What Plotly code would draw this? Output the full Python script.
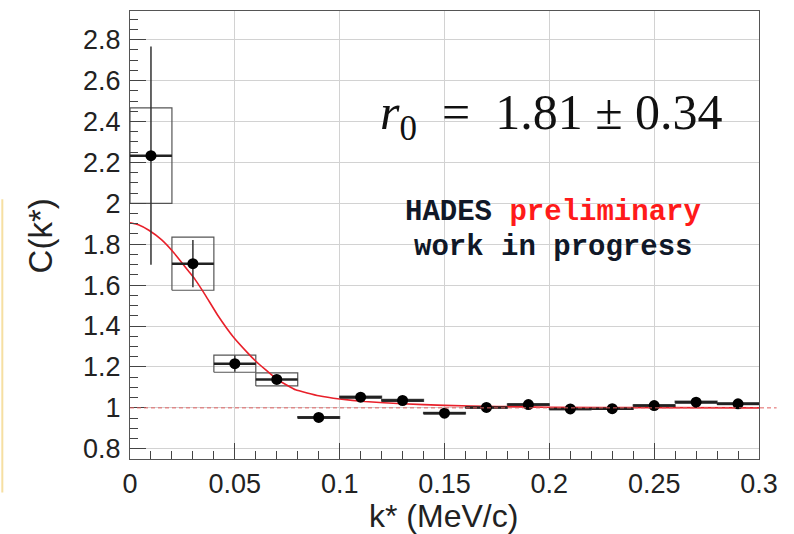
import plotly.graph_objects as go

# ---------------- data ----------------
bin_center = [0.01, 0.03, 0.05, 0.07, 0.09, 0.11, 0.13, 0.15, 0.17, 0.19, 0.21, 0.23, 0.25, 0.27, 0.29]
bin_half = [0.01] * 15
corr = [2.233, 1.705, 1.216, 1.139, 0.953, 1.052, 1.036, 0.974, 1.002, 1.016, 0.995, 0.996, 1.011, 1.028, 1.02]
stat_err = [0.533, 0.115, 0.04, 0.02, 0.01, 0.01, 0.008, 0.01, 0.008, 0.008, 0.008, 0.008, 0.008, 0.008, 0.008]
sys_err = [0.233, 0.13, 0.042, 0.032, 0.004, 0.005, 0.005, 0.004, 0.004, 0.004, 0.004, 0.004, 0.004, 0.005, 0.004]

fit_k = [0.0, 0.004, 0.009, 0.015, 0.021, 0.028, 0.031, 0.036, 0.042, 0.049, 0.056, 0.060,
         0.070, 0.079, 0.090, 0.100, 0.112, 0.130, 0.150, 0.175, 0.200, 0.250, 0.300]
fit_c = [1.905, 1.895, 1.868, 1.822, 1.757, 1.667, 1.628, 1.55, 1.45, 1.35, 1.27, 1.228,
         1.14, 1.088, 1.059, 1.043, 1.031, 1.02, 1.012, 1.007, 1.003, 1.001, 1.0]

baseline = 1.0

x_tickvals = [0, 0.05, 0.1, 0.15, 0.2, 0.25, 0.3]
x_ticktext = ["0", "0.05", "0.1", "0.15", "0.2", "0.25", "0.3"]
y_tickvals = [0.8, 1.0, 1.2, 1.4, 1.6, 1.8, 2.0, 2.2, 2.4, 2.6, 2.8]
y_ticktext = ["0.8", "1", "1.2", "1.4", "1.6", "1.8", "2", "2.2", "2.4", "2.6", "2.8"]

x_title = "k* (MeV/c)"
y_title = "C(k*)"
r0_text = "<i>r</i><sub>0</sub>\u2002=\u20021.81 ± 0.34"
label1 = "<b>HADES <span style='color:#ff1a1a'>preliminary</span></b>"
label2 = "<b>work in progress</b>"

# ---------------- figure ----------------
fig = go.Figure()

# systematic boxes
bx, by = [], []
for c, h, v, s in zip(bin_center, bin_half, corr, sys_err):
    bx += [c - h, c + h, c + h, c - h, c - h, None]
    by += [v - s, v - s, v + s, v + s, v - s, None]
fig.add_trace(go.Scatter(x=bx, y=by, mode="lines",
                         line=dict(color="#555555", width=1.2),
                         hoverinfo="skip", showlegend=False))

# fit curve
fig.add_trace(go.Scatter(x=fit_k, y=fit_c, mode="lines",
                         line=dict(color="#e8202a", width=1.6, shape="spline", smoothing=0.3),
                         showlegend=False))

# data points
fig.add_trace(go.Scatter(
    x=bin_center, y=corr, mode="markers",
    marker=dict(color="black", size=11),
    error_x=dict(type="data", array=bin_half, width=0, thickness=2.5, color="#222222"),
    error_y=dict(type="data", array=stat_err, width=0, thickness=1.5, color="#333333"),
    showlegend=False))

axis_font = dict(family="Liberation Sans, Arial, sans-serif", size=27, color="#222222")

fig.update_xaxes(range=[0, 0.3], tickvals=x_tickvals, ticktext=x_ticktext,
                 showgrid=True, gridcolor="#d2d2d2", gridwidth=1, zeroline=False,
                 showline=True, mirror=True, linecolor="#555555", linewidth=1.2,
                 ticks="inside", ticklen=16, tickcolor="#444444", tickwidth=1,
                 minor=dict(dtick=0.01, tick0=0, ticks="inside", ticklen=8,
                            tickcolor="#444444", showgrid=False),
                 tickfont=axis_font)
fig.update_yaxes(range=[0.75, 2.94], tickvals=y_tickvals, ticktext=y_ticktext,
                 showgrid=True, gridcolor="#d2d2d2", gridwidth=1, zeroline=False,
                 showline=True, mirror=True, linecolor="#555555", linewidth=1.2,
                 ticks="inside", ticklen=16, tickcolor="#444444", tickwidth=1,
                 minor=dict(dtick=0.05, tick0=0.8, ticks="inside", ticklen=8,
                            tickcolor="#444444", showgrid=False),
                 tickfont=axis_font, ticklabelstandoff=3)

# baseline dashed line (extends slightly past frame)
fig.add_shape(type="line", xref="paper", yref="y", x0=0, x1=1.028, y0=baseline, y1=baseline,
              line=dict(color="#e06060", width=1, dash="4px,3px"), layer="above")

# yellowish edge artifact on the far left
fig.add_shape(type="line", xref="paper", yref="paper", x0=-0.203, x1=-0.203, y0=0.58, y1=-0.075,
              line=dict(color="#f6dfa2", width=2))

fig.add_annotation(text=r0_text, xref="paper", yref="paper", x=0.394, y=0.765,
                   xanchor="left", yanchor="middle", showarrow=False,
                   font=dict(family="Liberation Serif, Times New Roman, serif", size=50, color="#111111"))
fig.add_annotation(text=label1, xref="paper", yref="paper", x=0.672, y=0.55,
                   xanchor="center", yanchor="middle", showarrow=False,
                   font=dict(family="Liberation Mono, monospace", size=29, color="#101828"))
fig.add_annotation(text=label2, xref="paper", yref="paper", x=0.672, y=0.473,
                   xanchor="center", yanchor="middle", showarrow=False,
                   font=dict(family="Liberation Mono, monospace", size=29, color="#101828"))

fig.add_annotation(text=x_title, xref="paper", yref="paper", x=0.499, y=-0.128,
                   xanchor="center", yanchor="middle", showarrow=False,
                   font=dict(family="Liberation Sans, Arial, sans-serif", size=32, color="#222222"))
fig.add_annotation(text=y_title, xref="paper", yref="paper", x=-0.143, y=0.497,
                   xanchor="center", yanchor="middle", showarrow=False, textangle=-90,
                   font=dict(family="Liberation Sans, Arial, sans-serif", size=33, color="#222222"))

fig.update_layout(width=794, height=534, margin=dict(l=130, r=35, t=11, b=75),
                  paper_bgcolor="white", plot_bgcolor="white")

fig.write_html("out.html")
